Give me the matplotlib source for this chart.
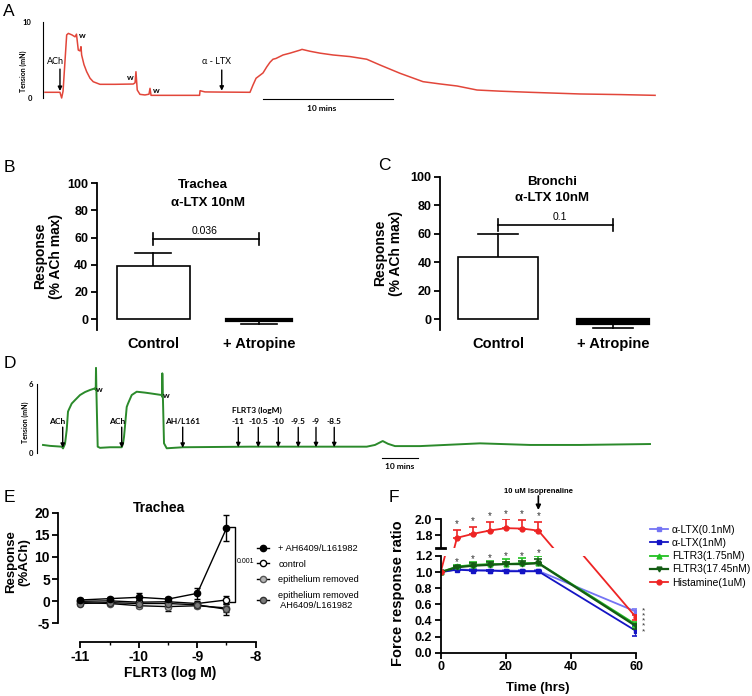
import numpy as np
import matplotlib
matplotlib.use('Agg')
import matplotlib.pyplot as plt
from matplotlib.ticker import FixedLocator

# ---------------- data ----------------
# Panel A trace (time in min, tension in mN)
trace_a_time = [0.0, 1.16, 1.29, 1.40, 1.68, 1.81, 2.09, 2.33, 2.44, 2.52, 2.58, 2.71, 2.79, 2.84,
                3.02, 3.23, 3.49, 3.74, 4.26, 5.43, 6.84, 6.98, 7.05, 7.15, 7.36, 7.75, 8.06, 8.14,
                8.22, 8.37, 10.08, 11.98, 12.02, 12.40, 13.57, 15.89, 16.12, 16.36, 16.67, 16.90,
                17.19, 17.44, 17.67, 17.90, 18.45, 18.99, 19.77, 19.92, 20.54, 21.32, 22.33, 23.64,
                24.94, 25.97, 27.52, 29.30, 30.62, 31.94, 33.49, 35.27, 37.60, 41.47, 44.57, 47.29]
trace_a_tension = [0.75, 0.75, 0.0, 0.9, 8.3, 8.5, 8.3, 8.05, 8.4, 7.2, 6.3, 6.2, 6.75, 5.66,
                   4.4, 3.46, 2.6, 2.14, 1.8, 1.8, 1.84, 2.0, 3.46, 1.05, 0.48, 0.4, 0.5, 1.27,
                   0.35, 0.35, 0.35, 0.35, 0.96, 0.8, 0.78, 0.75, 1.7, 2.6, 3.0, 3.3,
                   4.1, 4.7, 5.1, 5.2, 5.66, 5.9, 6.3, 6.4, 6.15, 5.9, 5.66, 5.45,
                   5.1, 4.34, 3.25, 2.15, 1.85, 1.58, 1.05, 0.9, 0.75, 0.53, 0.45, 0.35]

# Panel D trace
trace_d_time = [0.0, 1.94, 5.19, 5.56, 6.11, 6.58, 6.94, 7.22, 7.97, 8.89, 10.28, 11.67, 13.06,
                14.44, 14.64, 14.72, 14.86, 15.19, 15.83, 18.61, 21.86, 22.22, 22.50, 23.25, 23.61,
                24.64, 26.03, 28.33, 29.72, 32.97, 33.06, 33.14, 33.33, 33.61, 34.36, 38.89, 46.39,
                57.5, 71.39, 89.92, 92.22, 94.36, 95.83, 97.78, 104.72, 121.39, 135.28, 149.17, 168.61]
trace_d_tension = [0.7, 0.62, 0.55, 0.4, 0.8, 2.0, 3.6, 3.8, 4.3, 4.6, 5.04, 5.3, 5.48,
                   5.62, 5.5, 7.4, 5.0, 0.55, 0.45, 0.5, 0.5, 0.8, 1.4, 4.0, 4.3,
                   5.04, 5.33, 5.25, 5.19, 5.04, 4.9, 6.93, 4.5, 0.84, 0.41, 0.5, 0.52,
                   0.55, 0.55, 0.55, 0.7, 1.04, 0.8, 0.6, 0.6, 0.84, 0.7, 0.7, 0.78]
d_flrt3_labels = ['-11', '-10.5', '-10', '-9.5', '-9', '-8.5']
d_flrt3_times = [54.25, 59.8, 65.36, 70.9, 75.83, 80.9]

# Panels B / C
bar_categories = ['Control', '+ Atropine']
trachea_mean = [39.3, -1.2]
trachea_sem = [9.1, 2.7]
trachea_p = '0.036'
bronchi_mean = [43.8, -3.5]
bronchi_sem = [15.9, 3.0]
bronchi_p = '0.1'

# Panel E
flrt3_logM = [-11, -10.5, -10, -9.5, -9, -8.5]
e_ah = [0.3, 0.6, 0.9, 0.5, 1.8, 16.5]
e_ah_err = [0.4, 0.3, 1.0, 0.5, 1.2, 2.9]
e_control = [0.0, 0.1, -0.2, -0.1, -0.5, 0.3]
e_control_err = [0.3, 0.3, 0.5, 0.4, 0.6, 0.9]
e_epi = [-0.3, -0.5, -1.0, -1.2, -1.0, -1.5]
e_epi_err = [0.4, 0.4, 0.5, 1.0, 0.5, 1.0]
e_epi_ah = [-0.5, -0.3, -0.5, -0.5, -0.8, -1.8]
e_epi_ah_err = [0.3, 0.3, 0.3, 0.3, 0.4, 1.4]
e_labels = ['+ AH6409/L161982', 'control', 'epithelium removed',
            'epithelium removed\n AH6409/L161982']
e_p = '0.001'

# Panel F
f_time = [0, 5, 10, 15, 20, 25, 30, 60]
f_ltx01 = [1.0, 1.035, 1.025, 1.02, 1.02, 1.015, 1.015, 0.51]
f_ltx01_err = [0, 0.01, 0.01, 0.01, 0.01, 0.01, 0.01, 0.03]
f_ltx1 = [1.0, 1.03, 1.02, 1.02, 1.01, 1.01, 1.01, 0.27]
f_ltx1_err = [0, 0.01, 0.01, 0.01, 0.01, 0.01, 0.01, 0.06]
f_fl175 = [1.0, 1.07, 1.09, 1.10, 1.10, 1.11, 1.115, 0.35]
f_fl175_err = [0, 0.02, 0.04, 0.04, 0.06, 0.06, 0.085, 0.03]
f_fl1745 = [1.0, 1.06, 1.08, 1.09, 1.10, 1.10, 1.11, 0.33]
f_fl1745_err = [0, 0.02, 0.03, 0.03, 0.03, 0.04, 0.05, 0.03]
f_hist = [1.0, 1.77, 1.82, 1.86, 1.89, 1.885, 1.86, 0.44]
f_hist_err = [0, 0.10, 0.09, 0.11, 0.11, 0.11, 0.11, 0.03]
f_labels = ['\u03b1-LTX(0.1nM)', '\u03b1-LTX(1nM)', 'FLTR3(1.75nM)', 'FLTR3(17.45nM)', 'Histamine(1uM)']

# ---------------- figure ----------------
W, H = 752, 696
ARIAL = ['Liberation Sans', 'DejaVu Sans']
CAL = ['Lato', 'DejaVu Sans']
plt.rcParams['font.family'] = ARIAL
plt.rcParams['axes.linewidth'] = 1.3
fig = plt.figure(figsize=(W / 100, H / 100), dpi=100)


def axes_px(l, t, r, b):
    return fig.add_axes([l / W, 1 - b / H, (r - l) / W, (b - t) / H])


def ftext(x, y, s, **kw):
    kw.setdefault('ha', 'center')
    kw.setdefault('va', 'center')
    return fig.text(x / W, 1 - y / H, s, **kw)


# panel letters
for letter, (px, py) in zip('ABCDEF', [(9, 12), (9, 167), (384, 165), (10, 363), (9, 497), (394, 497)]):
    ftext(px, py, letter, fontsize=12.5)


def trace_axes(ax):
    for s in ['top', 'right', 'bottom']:
        ax.spines[s].set_visible(False)
    ax.spines['left'].set_linewidth(0.8)
    ax.set_xticks([])


# ---------- Panel A ----------
axA = axes_px(43, 18.2, 660, 120.8)
axA.plot(trace_a_time, trace_a_tension, color='#e2463a', lw=1.1)
axA.set_xlim(-0.155, 47.67)
axA.set_ylim(-3, 10.5)
trace_axes(axA)
axA.spines['left'].set_bounds(0, 10)
axA.set_yticks([0, 10], ['0', '10'], fontsize=5.5, fontweight='bold', family=CAL)
axA.tick_params(axis='y', length=0, pad=8)
ftext(23.3, 71, 'Tension (mN)', rotation=90, fontsize=5, fontweight='bold', family=CAL)


def arrow(ax, t, v0, v1):
    ax.annotate('', xy=(t, v1), xytext=(t, v0),
                arrowprops=dict(arrowstyle='-|>', color='black', lw=1.0, mutation_scale=6,
                                shrinkA=0, shrinkB=0), annotation_clip=False)


arrow(axA, 1.16, 3.8, 0.92)
axA.text(0.8, 4.75, 'ACh', fontsize=6.5, family=CAL, ha='center', va='center')
arrow(axA, 13.7, 3.68, 0.96)
axA.text(13.26, 4.78, '\u03b1 - LTX', fontsize=6.5, family=CAL, ha='center', va='center')
for t, v in [(2.92, 8.2), (6.59, 2.7), (8.6, 0.96)]:
    axA.text(t, v, 'w', fontsize=6, family=CAL, fontweight='bold', ha='center', va='center')
axA.plot([16.92, 26.95], [-0.17, -0.17], color='black', lw=0.8, clip_on=False)
axA.text(21.45, -1.4, '10 mins', fontsize=6, family=CAL, fontweight='bold', ha='center', va='center')


# ---------- Panels B and C ----------
def bar_panel(ax, means, sems, p, ylim, xlim, bracket_y, tick_d, p_xy):
    x = np.arange(len(bar_categories))
    widths = [0.69, 0.63]
    faces = ['white', 'black']
    lws = [1.2, 1.6]
    for xi, m, w, fc, lw in zip(x, means, widths, faces, lws):
        ax.bar(xi, m, width=w, color=fc, edgecolor='black', lw=lw, zorder=2)
    for xi, m, s in zip(x, means, sems):
        end = m + s if m > 0 else m - s
        ax.plot([xi, xi], [m, end], color='black', lw=1.2, zorder=1)
        ax.plot([xi - 0.17, xi + 0.17], [end, end], color='black', lw=1.2, zorder=1)
    ax.plot([x[0], x[1]], [bracket_y, bracket_y], color='black', lw=1.2)
    for xi in x:
        ax.plot([xi, xi], [bracket_y - tick_d, bracket_y + tick_d], color='black', lw=1.2)
    ax.text(p_xy[0], p_xy[1], p, fontsize=7.5, ha='center', va='center')
    ax.set_xlim(*xlim)
    ax.set_ylim(*ylim)
    for s in ['top', 'right', 'bottom']:
        ax.spines[s].set_visible(False)
    ax.set_yticks(range(0, 101, 20), [str(v) for v in range(0, 101, 20)],
                  fontsize=9, fontweight='bold')
    ax.set_xticks(x, bar_categories, fontsize=10.5, fontweight='bold')
    ax.tick_params(axis='x', length=0, pad=5)
    ax.tick_params(axis='y', length=4, width=1.3, pad=2)


axB = axes_px(96.7, 183.3, 306.5, 329.9)
bar_panel(axB, trachea_mean, trachea_sem, trachea_p, (-8, 100), (-0.535, 1.45), 59, 4.4, (0.49, 64.5))
ftext(203, 185, 'Trachea', fontsize=9.5, fontweight='bold')
ftext(208, 203, '\u03b1-LTX 10nM', fontsize=9.5, fontweight='bold')
ftext(48, 256, 'Response\n(% ACh max)', rotation=90, fontsize=10, fontweight='bold', linespacing=1.1)

axC = axes_px(440, 176.7, 664.8, 330)
bar_panel(axC, bronchi_mean, bronchi_sem, bronchi_p, (-7.7, 100), (-0.504, 1.45), 66, 4.2, (0.54, 71.7))
ftext(552, 182, 'Bronchi', fontsize=9.5, fontweight='bold')
ftext(552, 198, '\u03b1-LTX 10nM', fontsize=9.5, fontweight='bold')
ftext(388, 253, 'Response\n(% ACh max)', rotation=90, fontsize=10, fontweight='bold', linespacing=1.1)

# ---------- Panel D ----------
axD = axes_px(37, 365.6, 655, 471.4)
axD.plot(trace_d_time, trace_d_tension, color='#2b8a2b', lw=1.4)
axD.set_xlim(-1.67, 170)
axD.set_ylim(-1.6, 7.6)
trace_axes(axD)
axD.spines['left'].set_bounds(0, 6)
axD.set_yticks([0, 6], ['0', '6'], fontsize=5.5, fontweight='bold', family=CAL)
axD.tick_params(axis='y', length=0, pad=3)
ftext(25, 422, 'Tension (mN)', rotation=90, fontsize=5, fontweight='bold', family=CAL)
for t in [5.47, 21.86, 38.8]:
    arrow(axD, t, 2.25, 0.45)
for t, lab in [(3.9, 'ACh'), (20.5, 'ACh'), (38.75, 'AH/L161')]:
    axD.text(t, 2.78, lab, fontsize=6, family=CAL, fontweight='bold', ha='center', va='center')
for t, lab in zip(d_flrt3_times, d_flrt3_labels):
    arrow(axD, t, 2.23, 0.5)
    axD.text(t, 2.78, lab, fontsize=6, family=CAL, fontweight='bold', ha='center', va='center')
axD.text(52.6, 3.68, 'FLRT3 (logM)', fontsize=6, family=CAL, fontweight='bold', ha='left', va='center')
for t, v in [(15.56, 5.48), (34.2, 4.98)]:
    axD.text(t, v, 'w', fontsize=6, family=CAL, fontweight='bold', ha='center', va='center')
axD.plot([94.2, 104.2], [-0.43, -0.43], color='black', lw=0.8, clip_on=False)
axD.text(99.2, -1.15, '10 mins', fontsize=6, family=CAL, fontweight='bold', ha='center', va='center')

# ---------- Panel E ----------
axE = axes_px(58.3, 512.7, 255.7, 641.7)
e_series = [(e_ah, e_ah_err, 'black', 'black'),
            (e_control, e_control_err, 'white', 'black'),
            (e_epi, e_epi_err, '#b4b4b4', '#555555'),
            (e_epi_ah, e_epi_ah_err, '#7a7a7a', '#333333')]
handles = []
for (vals, errs, fc, ec), lab in zip(e_series, e_labels):
    axE.errorbar(flrt3_logM, vals, yerr=errs, fmt='none', ecolor='black', elinewidth=1.0,
                 capsize=2.5, capthick=1.0, zorder=2)
    ln, = axE.plot(flrt3_logM, vals, color='black', lw=1.0, marker='o', ms=4.5,
                   mfc=fc, mec=ec, mew=1.0, label=lab, zorder=3)
    handles.append(ln)
handles[0].set_zorder(5)
bx = flrt3_logM[-1] + 0.15
axE.plot([bx - 0.09, bx, bx, bx - 0.09], [e_ah[-1] + 0.2, e_ah[-1] + 0.2, e_control[-1] - 0.4,
                                          e_control[-1] - 0.4], color='black', lw=1.0)
axE.text(-8.17, 9.0, e_p, fontsize=5, ha='center', va='center')
axE.set_xlim(-11.38, -8)
axE.set_ylim(-9.12, 20)
for s in ['top', 'right']:
    axE.spines[s].set_visible(False)
axE.spines['left'].set_bounds(-5, 20)
axE.spines['bottom'].set_bounds(-11, -8)
axE.set_yticks(range(-5, 21, 5), [str(v) for v in range(-5, 21, 5)], fontsize=10, fontweight='bold')
axE.set_xticks([-11, -10, -9, -8], ['-11', '-10', '-9', '-8'], fontsize=10, fontweight='bold')
axE.xaxis.set_minor_locator(FixedLocator([-10.5, -9.5, -8.5]))
axE.tick_params(axis='both', which='major', length=4, width=1.3, pad=2)
axE.tick_params(axis='x', which='minor', length=2, width=1.0)
ftext(159, 508, 'Trachea', fontsize=10, fontweight='bold')
ftext(170, 673, 'FLRT3 (log M)', fontsize=10, fontweight='bold')
ftext(18, 562, 'Response\n(%ACh)', rotation=90, fontsize=9.5, fontweight='bold', linespacing=1.1)
fig.legend(handles=handles, loc='upper left', bbox_to_anchor=(257 / W, 1 - 544 / H),
           frameon=False, fontsize=6.7, handlelength=1.3, handletextpad=1.0, labelspacing=0.7,
           borderpad=0, borderaxespad=0)

# ---------- Panel F ----------
axF = axes_px(440.7, 556, 636, 652.7)
axF2 = axes_px(440.7, 519.3, 636, 547.5)
f_series = [(f_ltx01, f_ltx01_err, '#7474f4', 's'),
            (f_ltx1, f_ltx1_err, '#1414c4', 's'),
            (f_fl175, f_fl175_err, '#22c022', '^'),
            (f_fl1745, f_fl1745_err, '#145c14', 'v'),
            (f_hist, f_hist_err, '#ee2424', 'o')]
f_handles = []
for (vals, errs, col, mk), lab in zip(f_series, f_labels):
    lo = [e if t == f_time[-1] else 0 for t, e in zip(f_time, errs)]
    for ax in (axF, axF2):
        ax.errorbar(f_time, vals, yerr=[lo, errs], fmt='none', ecolor=col, elinewidth=1.2,
                    capsize=3, capthick=1.2)
        ln, = ax.plot(f_time, vals, color=col, lw=1.3 if mk != 'v' else 1.6, marker=mk, ms=3.5,
                      mfc=col, mec=col, label=lab)
        if ax is axF:
            f_handles.append(ln)

# significance stars
for t, v, e in zip(f_time[1:-1], f_hist[1:-1], f_hist_err[1:-1]):
    axF2.text(t, v + e + 0.065, '*', fontsize=7, ha='center', va='center', color='#333333', clip_on=False)
for t, v, e in zip(f_time[1:-1], f_fl175[1:-1], f_fl175_err[1:-1]):
    axF.text(t, v + e + 0.035, '*', fontsize=7, ha='center', va='center', color='#333333', clip_on=False)
end_vals = [s[0][-1] for s in f_series]
n_end = len(end_vals)
axF.text(f_time[-1] + 2.2, (max(end_vals) + min(end_vals)) / 2, '\n'.join(['*'] * n_end),
         fontsize=6, ha='center', va='center', linespacing=0.62, color='#333333', clip_on=False)

axF.set_xlim(0, 60)
axF.set_ylim(0, 1.2)
axF2.set_xlim(0, 60)
axF2.set_ylim(1.65, 2.0)
for s in ['top', 'right']:
    axF.spines[s].set_visible(False)
for s in ['top', 'right', 'bottom']:
    axF2.spines[s].set_visible(False)
axF2.set_xticks([])
yt = [0.0, 0.2, 0.4, 0.6, 0.8, 1.0, 1.2]
axF.set_yticks(yt, ['%.1f' % v for v in yt], fontsize=9, fontweight='bold')
axF2.set_yticks([1.8, 2.0], ['1.8', '2.0'], fontsize=9, fontweight='bold')
axF.set_xticks([0, 20, 40, 60], ['0', '20', '40', '60'], fontsize=9, fontweight='bold')
for ax in (axF, axF2):
    ax.tick_params(axis='both', length=4, width=1.3, pad=2)
axF2.plot([-0.025, 0.02], [0, 0], transform=axF2.transAxes, color='black', lw=2, clip_on=False)
axF2.annotate('', xy=(30, 2.115), xytext=(30, 2.29),
              arrowprops=dict(arrowstyle='-|>', color='black', lw=1.2, mutation_scale=7,
                              shrinkA=0, shrinkB=0), annotation_clip=False)
ftext(538, 491.5, '10 uM isoprenaline', fontsize=5.5, fontweight='bold')
ftext(398, 593, 'Force response ratio', rotation=90, fontsize=10.5, fontweight='bold')
ftext(538, 688, 'Time (hrs)', fontsize=9.5, fontweight='bold')
fig.legend(handles=f_handles, loc='upper left', bbox_to_anchor=(650 / W, 1 - 525 / H),
           frameon=False, fontsize=7.5, handlelength=1.7, handletextpad=0.4, labelspacing=0.3,
           borderpad=0, borderaxespad=0)

fig.savefig('out.png', dpi=100)
